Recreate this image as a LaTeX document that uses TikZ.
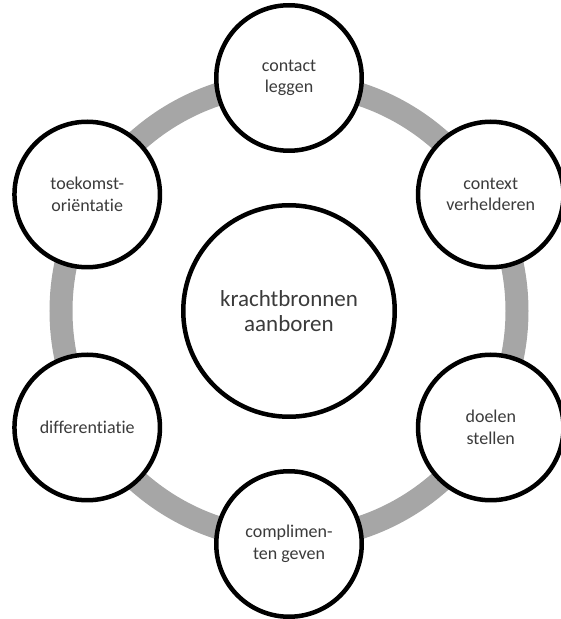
\documentclass[tikz,border=0pt]{standalone}
\usepackage{fontspec}
\setmainfont{Carlito}[Ligatures=NoCommon]
\usetikzlibrary{positioning}
\definecolor{ringgray}{HTML}{A6A6A6}
\definecolor{inkgray}{HTML}{3B3B3B}

\begin{document}
\begin{tikzpicture}[x=1pt, y=1pt,
  phase/.style={circle, draw, line width=4.5pt, fill=white, minimum size=145.5pt, inner sep=0pt, align=center, text=inkgray, font=\fontsize{18}{21.5}\selectfont},
  core/.style={phase, minimum size=211.5pt, font=\fontsize{23}{25.5}\selectfont}]
  \useasboundingbox (0,0) rectangle (561,619);
  \coordinate (mid) at (289,308);
  \draw[line width=23pt, ringgray] (mid) circle (228);
  \node[core] (kracht) at (mid) {krachtbronnen\\aanboren};
  \node[phase] (contact) at ([shift={(90:233)}]mid) {contact\\leggen};
  \node[phase] (context) at ([shift={(30:233)}]mid) {context\\verhelderen};
  \node[phase] (doelen) at ([shift={(-30:233)}]mid) {doelen\\stellen};
  \node[phase] (compl) at ([shift={(-90:233)}]mid) {complimen-\\ten geven};
  \node[phase] (diff) at ([shift={(210:233)}]mid) {differentiatie};
  \node[phase] (toekomst) at ([shift={(150:233)}]mid) {toekomst-\\oriëntatie};
\end{tikzpicture}
\end{document}
